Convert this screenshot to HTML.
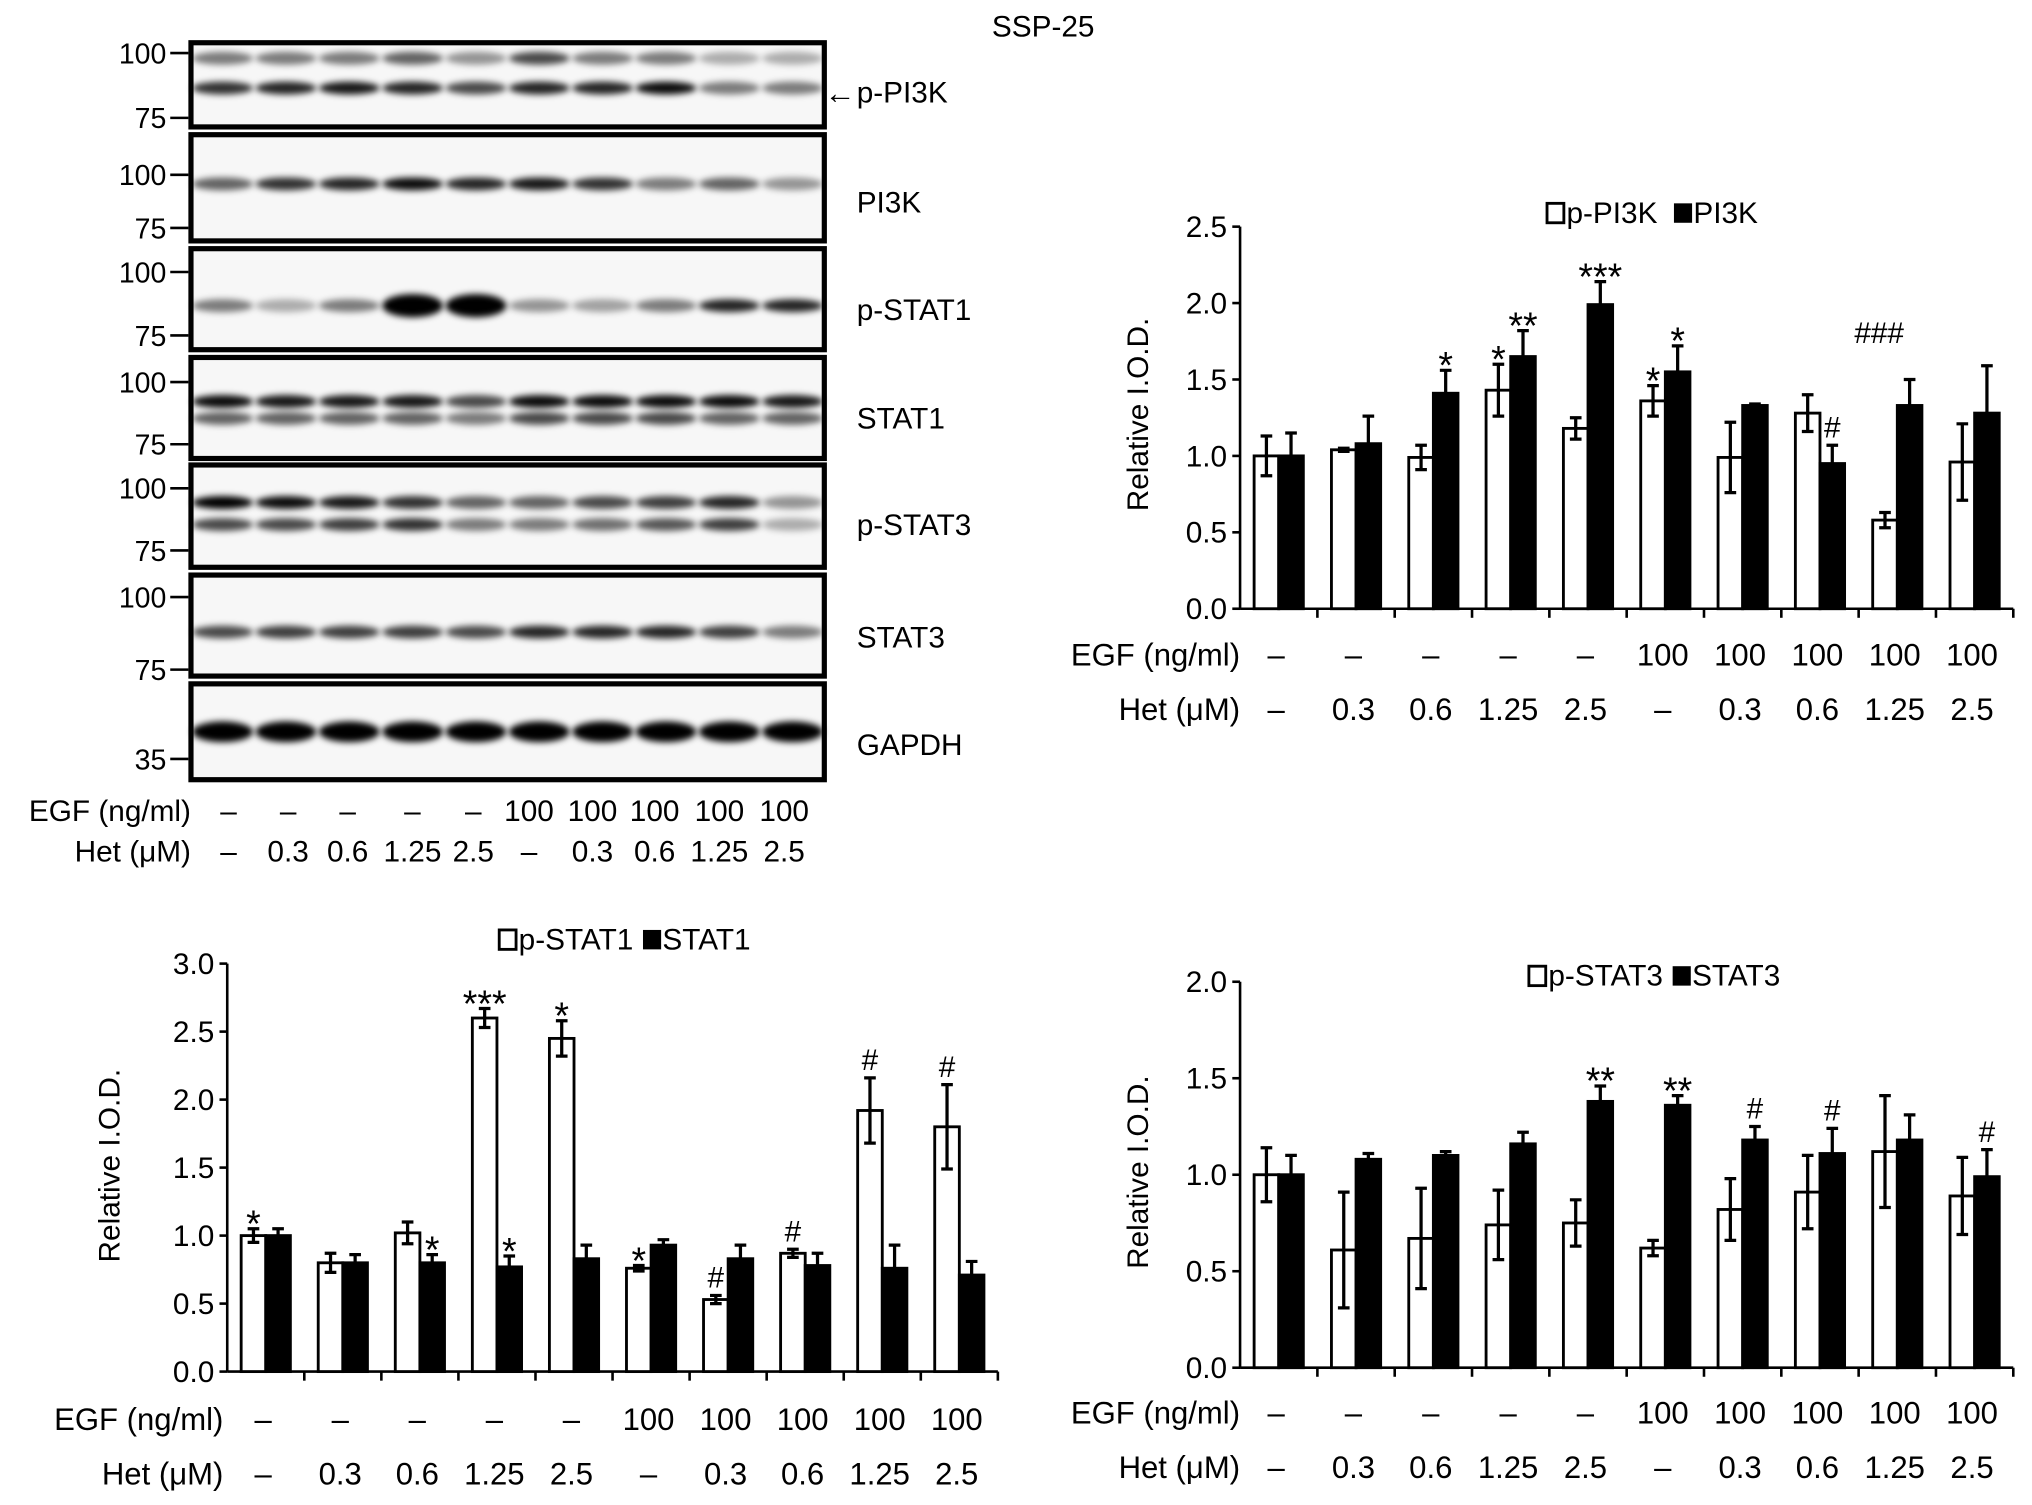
<!DOCTYPE html>
<html><head><meta charset="utf-8"><style>
html,body{margin:0;padding:0;background:#fff;}
svg{display:block;font-family:"Liberation Sans",Arial,sans-serif;}
</style></head><body>
<svg id="fig" width="2032" height="1505" viewBox="0 0 1568 1162" xmlns="http://www.w3.org/2000/svg">
<defs><filter id="blur" x="-20%" y="-100%" width="140%" height="300%"><feGaussianBlur stdDeviation="2.5"/></filter></defs>
<text x="805" y="28" font-size="23" text-anchor="middle">SSP-25</text>
<g id="blots"></g>
<g id="c1"></g>
<g id="c2"></g>
<g id="c3"></g>
</svg>
<script>
const NS="http://www.w3.org/2000/svg";
function mk(p,tag,attrs,txt){const e=document.createElementNS(NS,tag);for(const k in attrs)e.setAttribute(k,attrs[k]);if(txt!==undefined)e.textContent=txt;p.appendChild(e);return e;}

const egfLabels=["–","–","–","–","–","100","100","100","100","100"];
const hetLabels=["–","0.3","0.6","1.25","2.5","–","0.3","0.6","1.25","2.5"];

// Chart 1 data
const pi3kTicks=["0.0","0.5","1.0","1.5","2.0","2.5"];
const pPI3K=[1.0,1.04,0.99,1.43,1.18,1.36,0.99,1.28,0.58,0.96];
const pPI3KErr=[0.13,0.01,0.08,0.17,0.07,0.10,0.23,0.12,0.05,0.25];
const PI3K=[1.0,1.08,1.41,1.65,1.99,1.55,1.33,0.95,1.33,1.28];
const PI3KErr=[0.15,0.18,0.15,0.17,0.15,0.17,0.01,0.12,0.17,0.31];
const pi3kMarksW=["","","","*","","*","","","",""];
const pi3kMarksB=["","","*","**","***","*","","#","",""];
const pi3kMarksExtra=["","","","","","","","","###",""];
// Chart 2 data
const stat1Ticks=["0.0","0.5","1.0","1.5","2.0","2.5","3.0"];
const pSTAT1=[1.0,0.8,1.02,2.6,2.45,0.76,0.53,0.87,1.92,1.8];
const pSTAT1Err=[0.05,0.07,0.08,0.07,0.13,0.02,0.03,0.03,0.24,0.31];
const STAT1=[1.0,0.8,0.8,0.77,0.83,0.93,0.83,0.78,0.76,0.71];
const STAT1Err=[0.05,0.06,0.06,0.08,0.10,0.04,0.10,0.09,0.17,0.10];
const stat1MarksW=["*","","","***","*","*","#","#","#","#"];
const stat1MarksB=["","","*","*","","","","","",""];
// Chart 3 data
const stat3Ticks=["0.0","0.5","1.0","1.5","2.0"];
const pSTAT3=[1.0,0.61,0.67,0.74,0.75,0.62,0.82,0.91,1.12,0.89];
const pSTAT3Err=[0.14,0.30,0.26,0.18,0.12,0.04,0.16,0.19,0.29,0.20];
const STAT3=[1.0,1.08,1.1,1.16,1.38,1.36,1.18,1.11,1.18,0.99];
const STAT3Err=[0.10,0.03,0.02,0.06,0.08,0.05,0.07,0.13,0.13,0.14];
const stat3MarksW=["","","","","","","","","",""];
const stat3MarksB=["","","","","**","**","#","#","","#"];

function chart(g,o){
  const {x0,x1,y0,yTop,max,ticks,w,b,we,be,mw,mb,mx,leg,lx,ly,ylx,yly,egfY,hetY,labRight}=o;
  const ys=v=>y0-(v/max)*(y0-yTop);
  const gw=(x1-x0)/w.length;
  const gc=i=>x0+(i+0.5)*gw;
  const bw=19;
  ticks.forEach(t=>{const y=ys(parseFloat(t));
    const tl=mk(g,'line',{x1:x0-6,x2:x0,y1:y,y2:y,stroke:'#000','stroke-width':2});
    
    const tt=mk(g,'text',{x:x0-10,y:y+8,'font-size':23,'text-anchor':'end'},t);
    });
  const ax=mk(g,'line',{x1:x0,x2:x0,y1:ys(max),y2:y0,stroke:'#000','stroke-width':2});
  
  const xa=mk(g,'line',{x1:x0,x2:x1,y1:y0,y2:y0,stroke:'#000','stroke-width':2});
  
  for(let i=1;i<=w.length;i++){const tx=x0+i*gw;
    const l=mk(g,'line',{x1:tx,x2:tx,y1:y0,y2:y0+7,stroke:'#000','stroke-width':2});
    }
  w.forEach((v,i)=>{
    const c=gc(i);
    [[v,we[i],c-bw,'#fff',mw[i],'bar-white'],[b[i],be[i],c,'#000',mb[i],'bar-black']].forEach(([val,err,bx,fill,mark,nm])=>{
      const r=mk(g,'rect',{x:bx,y:ys(val),width:bw,height:y0-ys(val),fill:fill,stroke:'#000','stroke-width':2.2});
      
      const ex=bx+bw/2,eh=ys(val+err),el=ys(val-err);
      const e=mk(g,'path',{d:`M${ex} ${eh}V${el}M${ex-4.5} ${eh}H${ex+4.5}M${ex-4.5} ${el}H${ex+4.5}`,stroke:'#000','stroke-width':2.5,fill:'none'});
      
      if(mark){const isHash=mark[0]==='#';
        const m=mk(g,'text',{x:ex,y:eh-(isHash?6:-6),'font-size':isHash?23:29,'text-anchor':'middle'},mark);
        }
    });
    if(mx&&mx[i]){const m=mk(g,'text',{x:c-14,y:ys(Math.max(v+we[i],b[i]+be[i]))-28,'font-size':23,'text-anchor':'middle'},mx[i]);
      }
    const lc=c-2;
    const t1=mk(g,'text',{x:lc,y:egfY,'font-size':24,'text-anchor':'middle'},egfLabels[i]);
    
    const t2=mk(g,'text',{x:lc,y:hetY,'font-size':24,'text-anchor':'middle'},hetLabels[i]);
    
  });
  const e1=mk(g,'text',{x:labRight,y:egfY,'font-size':24,'text-anchor':'end'},'EGF (ng/ml)');
  
  const e2=mk(g,'text',{x:labRight,y:hetY,'font-size':24,'text-anchor':'end'},'Het (μM)');
  
  const yl=mk(g,'text',{x:ylx,y:yly,'font-size':23,'text-anchor':'middle',transform:`rotate(-90 ${ylx} ${yly})`},'Relative I.O.D.');
  
  const lg=mk(g,'g',{});
  mk(lg,'rect',{x:lx,y:ly-15,width:13,height:15,fill:'#fff',stroke:'#000','stroke-width':2.2});
  mk(lg,'text',{x:lx+15,y:ly,'font-size':23},leg[0]);
  const lw=leg[0].length*13+20;
  mk(lg,'rect',{x:lx+lw,y:ly-15,width:14,height:15,fill:'#000'});
  mk(lg,'text',{x:lx+lw+15,y:ly,'font-size':23},leg[1]);
}
chart(document.getElementById('c1'),{x0:957,x1:1554,y0:470,yTop:175,max:2.5,ticks:pi3kTicks,w:pPI3K,b:PI3K,we:pPI3KErr,be:PI3KErr,mw:pi3kMarksW,mb:pi3kMarksB,mx:pi3kMarksExtra,leg:['p-PI3K','PI3K'],lx:1194,ly:172,ylx:886,yly:320,egfY:514,hetY:556,labRight:957});
chart(document.getElementById('c2'),{x0:175,x1:770,y0:1059,yTop:744,max:3.0,ticks:stat1Ticks,w:pSTAT1,b:STAT1,we:pSTAT1Err,be:STAT1Err,mw:stat1MarksW,mb:stat1MarksB,leg:['p-STAT1','STAT1'],lx:385,ly:733,ylx:92,yly:900,egfY:1104,hetY:1146,labRight:172});
chart(document.getElementById('c3'),{x0:957,x1:1554,y0:1056,yTop:758,max:2.0,ticks:stat3Ticks,w:pSTAT3,b:STAT3,we:pSTAT3Err,be:STAT3Err,mw:stat3MarksW,mb:stat3MarksB,leg:['p-STAT3','STAT3'],lx:1180,ly:761,ylx:886,yly:905,egfY:1099,hetY:1141,labRight:957});

// Blots
const blotNames=["p-PI3K","PI3K","p-STAT1","STAT1","p-STAT3","STAT3","GAPDH"];
const blotTop=[33,104,192,276,359,444,528];
const blotBottom=[98,186,270,354,438,522,602];
const blotLabelY=[79,164,247,331,413,500,583];
const blotTicks=[[["100",41],["75",91]],[["100",135],["75",176]],[["100",210],["75",259]],[["100",295],["75",343]],[["100",377],["75",425]],[["100",461],["75",517]],[["35",586]]];
const bandY=[[45,68],[142],[236],[310,323],[388,405],[488],[565]];
const bandI=[
 [[.5,.5,.5,.6,.4,.7,.5,.5,.3,.3],[.8,.85,.9,.85,.7,.85,.85,.95,.5,.5]],
 [[.6,.8,.85,.95,.85,.9,.8,.5,.6,.4]],
 [[.5,.3,.5,1,1,.4,.35,.5,.85,.85]],
 [[.95,.9,.9,.9,.7,.95,.95,.95,.95,.9],[.6,.6,.6,.6,.5,.7,.7,.7,.6,.6]],
 [[1,.95,.9,.8,.6,.6,.7,.75,.85,.4],[.7,.7,.75,.8,.5,.5,.55,.65,.75,.3]],
 [[.7,.75,.75,.75,.7,.85,.85,.85,.75,.5]],
 [[1,1,1,1,1,1,1,1,1,1]]
];
const bg=document.getElementById('blots');
const bx0=147,bx1=636,laneW=(bx1-bx0)/10;
blotNames.forEach((n,k)=>{
  const g=mk(bg,'g',{});
  
  
  mk(g,'rect',{x:bx0,y:blotTop[k],width:bx1-bx0,height:blotBottom[k]-blotTop[k],fill:'#f7f7f7',stroke:'#000','stroke-width':4});
  bandY[k].forEach((y,j)=>{bandI[k][j].forEach((a,i)=>{
    mk(g,'ellipse',{cx:bx0+(i+0.5)*laneW,cy:y,rx:laneW*0.48,ry:k===2&&a>0.9?9:(k===6?8:5),fill:'#000','fill-opacity':a,filter:'url(#blur)'});});});
  blotTicks[k].forEach(([t,y])=>{
    mk(g,'text',{x:128,y:y+8,'font-size':22,'text-anchor':'end'},t);
    mk(g,'line',{x1:131,x2:145,y1:y,y2:y,stroke:'#000','stroke-width':2});});
  const lab=mk(g,'text',{x:661,y:blotLabelY[k],'font-size':23},n);
  
  
});
mk(bg,'text',{x:636,y:80,'font-size':24},'←');
const blotLab=mk(bg,'g',{});


mk(blotLab,'text',{x:147,y:634,'font-size':23,'text-anchor':'end'},'EGF (ng/ml)');
mk(blotLab,'text',{x:147,y:665,'font-size':23,'text-anchor':'end'},'Het (μM)');
const blotLX=[176,222,268,318,365,408,457,505,555,605];
egfLabels.forEach((t,i)=>{mk(blotLab,'text',{x:blotLX[i],y:634,'font-size':23,'text-anchor':'middle'},t);
  mk(blotLab,'text',{x:blotLX[i],y:665,'font-size':23,'text-anchor':'middle'},hetLabels[i]);});
</script>
</body></html>
